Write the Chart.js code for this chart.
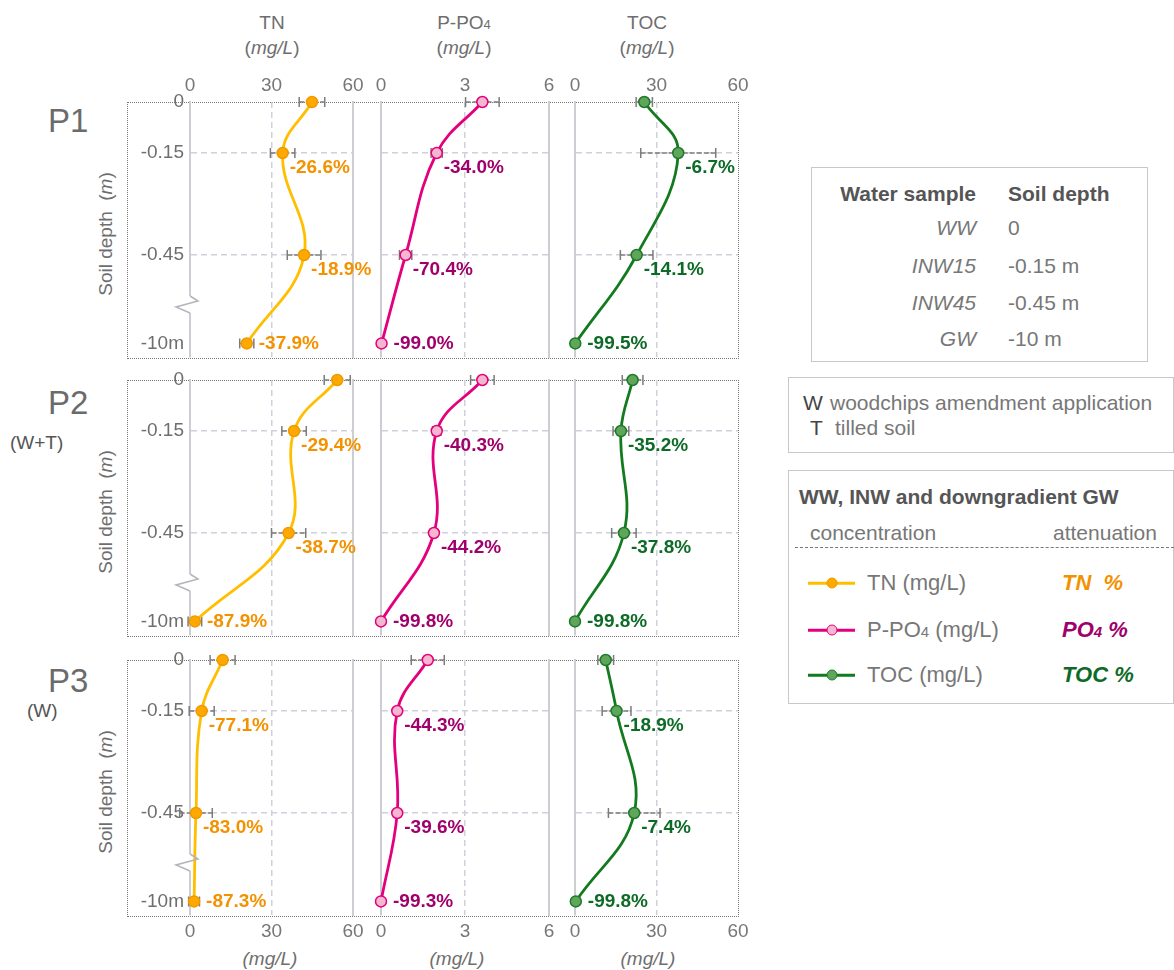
<!DOCTYPE html>
<html>
<head>
<meta charset="utf-8">
<script src="https://cdn.jsdelivr.net/npm/chart.js@4.4.1/dist/chart.umd.min.js"></script>
<style>
  body { margin: 0; background: #fff; font-family: "Liberation Sans", Arial, sans-serif; color: #6e6e6e; }
  #page { position: relative; width: 1174px; height: 970px; overflow: hidden; }
  .abs { position: absolute; white-space: nowrap; line-height: 1; }
  .c { transform: translate(-50%, -50%); }
  .l { transform: translate(0, -50%); }
  .r { transform: translate(-100%, -50%); }
  .panel { position: absolute; z-index: 2; }
  .rowbox { position: absolute; border: 1px dotted #777; z-index: 1; }
  .box { position: absolute; border: 1px solid #c8c8c8; box-sizing: border-box; }
  .hdr { font-size: 19px; color: #6e6e6e; }
  .sub { font-size: 13px; }
  .plabel { font-size: 33px; color: #6b6b6b; }
  .treat { font-size: 19px; color: #555; }
  .ylab { font-size: 19px; color: #6e6e6e; transform: translate(-50%, -50%) rotate(-90deg); }
  .leg { font-size: 21px; color: #777; }
  .legb { font-size: 21px; color: #555; font-weight: bold; }
  .row { font-size: 22px; color: #777; }
  .att { font-size: 22px; font-weight: bold; font-style: italic; }
  .swatch { position: absolute; height: 3px; width: 47px; transform: translate(0, -50%); }
  .dot { position: absolute; width: 9px; height: 9px; border-radius: 50%; border: 1.5px solid; transform: translate(-50%, -50%); }
</style>
</head>
<body>
<div id="page"></div>
<script>
// depth positions (GW at -10 m drawn below a break)
const depths = [0, -0.15, -0.45, -0.71];
const depthLabels = ['0', '-0.15', '-0.45', '-10m'];
const BREAK_DEPTH = -0.6;

const tnTicks = [0, 30, 60];
const po4Ticks = [0, 3, 6];
const tocTicks = [0, 30, 60];

// P1
const p1TN = [44.9, 34.1, 42.0, 20.9];
const p1TNErr = [4.7, 4.5, 6.2, 2.6];
const p1TNAtt = ['', '-26.6%', '-18.9%', '-37.9%'];
const p1PO4 = [3.62, 1.99, 0.88, 0.02];
const p1PO4Err = [0.6, 0.2, 0.22, 0];
const p1PO4Att = ['', '-34.0%', '-70.4%', '-99.0%'];
const p1TOC = [25.5, 38.0, 22.7, 0.1];
const p1TOCErr = [3.0, 13.8, 6.0, 0];
const p1TOCAtt = ['', '-6.7%', '-14.1%', '-99.5%'];

// P2 (W+T)
const p2TN = [54.2, 38.3, 36.3, 1.8];
const p2TNErr = [4.8, 4.5, 6.3, 2.5];
const p2TNAtt = ['', '-29.4%', '-38.7%', '-87.9%'];
const p2PO4 = [3.62, 1.99, 1.89, 0.0];
const p2PO4Err = [0.42, 0.15, 0.12, 0];
const p2PO4Att = ['', '-40.3%', '-44.2%', '-99.8%'];
const p2TOC = [21.2, 16.9, 18.0, 0.0];
const p2TOCErr = [3.8, 2.9, 4.5, 0];
const p2TOCAtt = ['', '-35.2%', '-37.8%', '-99.8%'];

// P3 (W)
const p3TN = [12.0, 4.3, 2.2, 1.5];
const p3TNErr = [4.6, 4.6, 6.0, 2.0];
const p3TNAtt = ['', '-77.1%', '-83.0%', '-87.3%'];
const p3PO4 = [1.67, 0.58, 0.58, 0.0];
const p3PO4Err = [0.59, 0.08, 0.08, 0];
const p3PO4Att = ['', '-44.3%', '-39.6%', '-99.3%'];
const p3TOC = [11.3, 15.3, 21.8, 0.3];
const p3TOCErr = [2.9, 5.3, 9.5, 0];
const p3TOCAtt = ['', '-18.9%', '-7.4%', '-99.8%'];

const rowNames = ['P1', 'P2', 'P3'];
const rowTreatments = ['', '(W+T)', '(W)'];
const sampleNames = ['WW', 'INW15', 'INW45', 'GW'];
const sampleDepths = ['0', '-0.15 m', '-0.45 m', '-10 m'];

const series = [
    [[p1TN, p1TNErr, p1TNAtt], [p1PO4, p1PO4Err, p1PO4Att], [p1TOC, p1TOCErr, p1TOCAtt]],
    [[p2TN, p2TNErr, p2TNAtt], [p2PO4, p2PO4Err, p2PO4Att], [p2TOC, p2TOCErr, p2TOCAtt]],
    [[p3TN, p3TNErr, p3TNAtt], [p3PO4, p3PO4Err, p3PO4Att], [p3TOC, p3TOCErr, p3TOCAtt]]
];
const xTicks = [tnTicks, po4Ticks, tocTicks];

const FONT = '"Liberation Sans", Arial, sans-serif';
const GRID = '#d0d0dc';
const AXIS = '#cdcdd4';
const colStyle = [
    { line: '#FFBF00', fill: '#FFA800', edge: '#F09A00', text: '#F39200' },
    { line: '#E4007C', fill: '#F5B7CF', edge: '#E4007C', text: '#A0006B' },
    { line: '#137A1F', fill: '#5FA55A', edge: '#1D7A2A', text: '#0E6B27' }
];

// plot areas on the page
const colLeft = [190, 381, 575];
const colWidth = [163, 168, 163];
const rowTop = [102, 380, 660];
const plotH = 255;
const PAD_L = 70, PAD_T = 40, PAD_R = 40, PAD_B = 40;

const page = document.getElementById('page');

function addText(html, x, y, cls, align) {
    const el = document.createElement('div');
    el.className = 'abs ' + (align || 'c') + ' ' + cls;
    el.style.left = x + 'px';
    el.style.top = y + 'px';
    el.innerHTML = html;
    page.appendChild(el);
    return el;
}

function addBox(cls, x, y, w, h) {
    const el = document.createElement('div');
    el.className = cls;
    el.style.left = x + 'px';
    el.style.top = y + 'px';
    el.style.width = w + 'px';
    el.style.height = h + 'px';
    page.appendChild(el);
    return el;
}

function panelExtras(errs, atts, st, withBreak) {
    return {
        id: 'panelExtras',
        beforeDatasetsDraw(chart) {
            const {ctx, scales: {x, y}} = chart;
            const pts = chart.data.datasets[0].data;
            ctx.save();
            // error bars
            ctx.strokeStyle = '#7c7c7c';
            ctx.lineWidth = 1.5;
            pts.forEach((p, i) => {
                if (!errs[i]) return;
                const xl = x.getPixelForValue(p.x - errs[i]);
                const xr = x.getPixelForValue(p.x + errs[i]);
                const yy = y.getPixelForValue(p.y);
                ctx.setLineDash([5, 2]);
                ctx.beginPath();
                ctx.moveTo(xl, yy);
                ctx.lineTo(xr, yy);
                ctx.stroke();
                ctx.setLineDash([]);
                ctx.beginPath();
                ctx.moveTo(xl, yy - 5);
                ctx.lineTo(xl, yy + 5);
                ctx.moveTo(xr, yy - 5);
                ctx.lineTo(xr, yy + 5);
                ctx.stroke();
            });
            // axis break
            if (withBreak) {
                const ax = x.getPixelForValue(0);
                const yc = y.getPixelForValue(BREAK_DEPTH);
                ctx.fillStyle = '#fff';
                ctx.fillRect(ax - 2, yc - 10, 4, 17);
            }
            ctx.restore();
        },
        afterDatasetsDraw(chart) {
            const {ctx, scales: {x, y}} = chart;
            const pts = chart.data.datasets[0].data;
            ctx.save();
            if (withBreak) {
                const ax = x.getPixelForValue(0);
                const yc = y.getPixelForValue(BREAK_DEPTH);
                ctx.strokeStyle = '#b4b4bc';
                ctx.lineWidth = 1.5;
                ctx.beginPath();
                ctx.moveTo(ax, yc - 10);
                ctx.lineTo(ax + 8, yc - 5);
                ctx.lineTo(ax - 14, yc + 1);
                ctx.lineTo(ax, yc + 7);
                ctx.stroke();
            }
            // attenuation labels
            ctx.font = 'bold 19px ' + FONT;
            ctx.fillStyle = st.text;
            ctx.textAlign = 'left';
            ctx.textBaseline = 'middle';
            pts.forEach((p, i) => {
                if (!atts[i]) return;
                const px = x.getPixelForValue(p.x);
                const py = y.getPixelForValue(p.y);
                const last = i === pts.length - 1;
                ctx.fillText(atts[i], px + (last ? 12 : 7), py + (last ? 0 : 15));
            });
            ctx.restore();
        }
    };
}

function makePanel(r, c) {
    const [vals, errs, atts] = series[r][c];
    const st = colStyle[c];
    const ticks = xTicks[c];
    const xMax = ticks[ticks.length - 1];
    const bottomAxis = r === 2;

    const canvas = document.createElement('canvas');
    canvas.width = colWidth[c] + PAD_L + PAD_R;
    canvas.height = plotH + PAD_T + PAD_B;
    canvas.className = 'panel';
    canvas.style.left = (colLeft[c] - PAD_L) + 'px';
    canvas.style.top = (rowTop[r] - PAD_T) + 'px';
    page.appendChild(canvas);

    new Chart(canvas, {
        type: 'line',
        data: {
            datasets: [{
                data: vals.map((v, i) => ({x: v, y: depths[i]})),
                borderColor: st.line,
                borderWidth: 2.8,
                tension: 0.4,
                pointRadius: 5.5,
                pointBackgroundColor: st.fill,
                pointBorderColor: st.edge,
                pointBorderWidth: 1.5,
                clip: false
            }]
        },
        options: {
            responsive: false,
            animation: false,
            events: [],
            layout: {padding: {top: bottomAxis ? PAD_T : 0, bottom: bottomAxis ? 0 : PAD_B, left: 0, right: 0}},
            plugins: {legend: {display: false}, tooltip: {enabled: false}},
            scales: {
                x: {
                    type: 'linear',
                    position: bottomAxis ? 'bottom' : 'top',
                    min: 0,
                    max: xMax,
                    afterBuildTicks: s => { s.ticks = ticks.map(v => ({value: v})); },
                    afterFit: s => { s.height = bottomAxis ? PAD_B : PAD_T; },
                    ticks: {display: r !== 1, color: '#777', font: {size: 19, family: FONT}, padding: 5, maxRotation: 0, autoSkip: false},
                    grid: {
                        drawTicks: false,
                        lineWidth: 1.5,
                        color: ctx => (ctx.tick && ctx.tick.value === ticks[1]) ? GRID : 'rgba(0,0,0,0)'
                    },
                    border: {display: false, dash: [6, 4]}
                },
                y: {
                    type: 'linear',
                    position: 'left',
                    min: -0.75,
                    max: 0,
                    afterBuildTicks: s => { s.ticks = depths.map(v => ({value: v})); },
                    afterFit: s => { s.width = PAD_L; },
                    ticks: {
                        display: c === 0,
                        color: '#6e6e6e',
                        font: {size: 19, family: FONT},
                        padding: 6,
                        autoSkip: false,
                        callback: (v, i) => depthLabels[i]
                    },
                    grid: {
                        drawTicks: false,
                        lineWidth: 1.5,
                        color: ctx => (ctx.tick && (ctx.tick.value === depths[1] || ctx.tick.value === depths[2])) ? GRID : 'rgba(0,0,0,0)'
                    },
                    border: {display: true, color: AXIS, width: 2, dash: [6, 4]}
                },
                yr: {
                    type: 'linear',
                    position: 'right',
                    min: -0.75,
                    max: 0,
                    afterFit: s => { s.width = PAD_R; },
                    ticks: {display: false},
                    grid: {display: false, drawTicks: false},
                    border: {display: c < 2, color: AXIS, width: 2}
                }
            }
        },
        plugins: [panelExtras(errs, atts, st, c === 0)]
    });
}

// column headers
const headers = ['TN', 'P-PO<span class="sub">4</span>', 'TOC'];
const headerX = [272, 464, 647];
const footerX = [270, 457, 648];
headers.forEach((h, i) => {
    addText(h, headerX[i], 22, 'hdr');
    addText('(<i>mg/L</i>)', headerX[i], 47, 'hdr');
    addText('<i>(mg/L)</i>', footerX[i], 958, 'hdr');
});

// row frames, row names, axis titles
const rowNameY = [120, 402, 680];
const treatPos = [null, [10, 442], [27, 710]];
rowNames.forEach((name, r) => {
    addBox('rowbox', 127, rowTop[r], 610, plotH);
    addText(name, 48, rowNameY[r], 'plabel', 'l');
    if (rowTreatments[r]) addText(rowTreatments[r], treatPos[r][0], treatPos[r][1], 'treat', 'l');
    addText('Soil depth&nbsp;&nbsp;(<i>m</i>)', 105, rowTop[r] + 132, 'ylab', '');
    for (let c = 0; c < 3; c++) makePanel(r, c);
});

// legend: water samples
addBox('box', 811, 167, 337, 195);
addText('Water sample', 976, 193, 'legb', 'r');
addText('Soil depth', 1008, 193, 'legb', 'l');
const sampleY = [227, 265, 302, 338];
sampleNames.forEach((s, i) => {
    addText('<i>' + s + '</i>', 976, sampleY[i], 'leg', 'r');
    addText(sampleDepths[i], 1008, sampleY[i], 'leg', 'l');
});

// legend: treatments
addBox('box', 788, 377, 386, 76);
addText('W', 803, 402, 'leg', 'l').style.color = '#444';
addText('woodchips amendment application', 830, 402, 'leg', 'l');
addText('T', 810, 427, 'leg', 'l').style.color = '#444';
addText('tilled soil', 835, 427, 'leg', 'l');

// legend: series
addBox('box', 788, 470, 386, 234);
addText('WW, INW and downgradient GW', 799, 496, 'legb', 'l');
addText('concentration', 810, 532, 'leg', 'l');
addText('attenuation', 1053, 532, 'leg', 'l');
const dash = addBox('abs', 795, 547, 379, 0);
dash.style.borderTop = '1px dashed #777';

const legendNames = ['TN (mg/L)', 'P-PO<span class="sub" style="font-size:15px">4</span> (mg/L)', 'TOC (mg/L)'];
const legendAtt = ['TN&nbsp;&nbsp;%', 'PO<span class="sub" style="font-size:15px">4</span> %', 'TOC %'];
const legendY = [583, 630, 675];
legendNames.forEach((n, i) => {
    const st = colStyle[i];
    const sw = addBox('swatch', 808, legendY[i], 47, 3);
    sw.style.background = st.line;
    sw.style.height = '2.5px';
    const dot = addBox('dot', 832, legendY[i], 9, 9);
    dot.style.background = st.fill;
    dot.style.borderColor = st.edge;
    addText(n, 867, legendY[i], 'row', 'l');
    addText(legendAtt[i], 1062, legendY[i], 'att', 'l').style.color = st.text;
});
</script>
</body>
</html>
